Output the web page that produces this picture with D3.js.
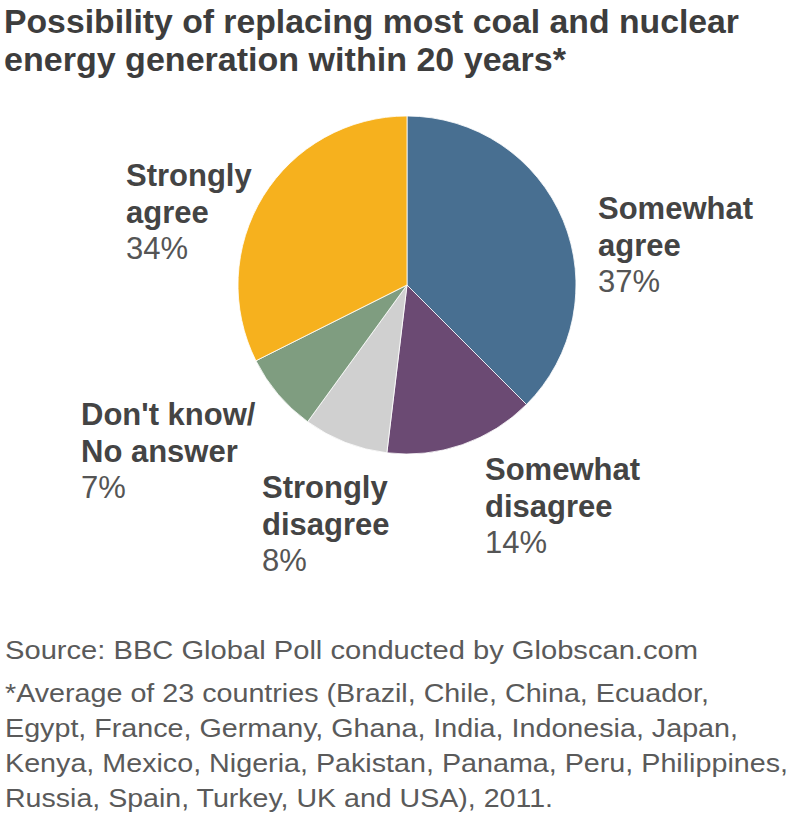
<!DOCTYPE html>
<html>
<head>
<meta charset="utf-8">
<script src="https://cdn.jsdelivr.net/npm/d3@7"></script>
<style>
  html, body { margin: 0; padding: 0; background: #fff; }
  svg { display: block; }
  text { font-family: "Liberation Sans", Arial, Helvetica, sans-serif; }
</style>
</head>
<body>
<svg id="chart" width="800" height="818"></svg>
<script>
// ---- data ----
const categories = ["Somewhat agree", "Somewhat disagree", "Strongly disagree", "Don't know/No answer", "Strongly agree"];
// printed percentages
const values = [37, 14, 8, 7, 34];
// slice sizes as drawn in the picture
const sliceShares = [37.5, 14.4, 8.1, 7.6, 32.4];
const labelLines = [["Somewhat", "agree"], ["Somewhat", "disagree"], ["Strongly", "disagree"], ["Don't know/", "No answer"], ["Strongly", "agree"]];
const colors = ["#486f91", "#6b4a73", "#d0d0d0", "#7f9d80", "#f6b11e"];
const titleLines = ["Possibility of replacing most coal and nuclear", "energy generation within 20 years*"];
const sourceLine = "Source: BBC Global Poll conducted by Globscan.com";
const noteLines = [
  "*Average of 23 countries (Brazil, Chile, China, Ecuador,",
  "Egypt, France, Germany, Ghana, India, Indonesia, Japan,",
  "Kenya, Mexico, Nigeria, Pakistan, Panama, Peru, Philippines,",
  "Russia, Spain, Turkey, UK and USA), 2011."
];

// ---- layout (not data) ----
const svg = d3.select("#chart");
const cx = 407, cy = 285, R = 169;
const titleLen = [735, 562];
const noteLen = [704, 733, 783, 548];
const labelAnchor = [[598, 219], [485, 480], [262, 498], [81, 425], [126, 186]];
const lineH = 36.5;

// title
svg.append("g").selectAll("text").data(titleLines).join("text")
  .attr("x", 4).attr("y", (d, i) => 33 + i * 38)
  .attr("font-size", 34).attr("font-weight", "bold").attr("fill", "#3d3d3d")
  .attr("textLength", (d, i) => titleLen[i]).attr("lengthAdjust", "spacingAndGlyphs")
  .text(d => d);

// pie
const pie = d3.pie().sort(null).value(d => d)(sliceShares);
const arc = d3.arc().innerRadius(0).outerRadius(R);
svg.append("g").attr("transform", `translate(${cx},${cy})`)
  .selectAll("path").data(pie).join("path")
  .attr("d", arc)
  .attr("fill", (d, i) => colors[i])
  .attr("stroke", "#ffffff").attr("stroke-width", 0.8);

// labels
const lg = svg.append("g");
categories.forEach((c, i) => {
  const [x, y] = labelAnchor[i];
  const t = lg.append("text").attr("x", x).attr("y", y).attr("font-size", 31);
  labelLines[i].forEach((ln, j) => {
    t.append("tspan").attr("x", x).attr("dy", j === 0 ? 0 : lineH)
      .attr("font-weight", "bold").attr("fill", "#444").text(ln);
  });
  t.append("tspan").attr("x", x).attr("dy", lineH)
    .attr("fill", "#555").text(values[i] + "%");
});

// source & notes
svg.append("text").attr("x", 5).attr("y", 659)
  .attr("font-size", 25).attr("fill", "#5a5a5a")
  .attr("textLength", 693).attr("lengthAdjust", "spacingAndGlyphs")
  .text(sourceLine);
svg.append("g").selectAll("text").data(noteLines).join("text")
  .attr("x", 5).attr("y", (d, i) => 702 + i * 35)
  .attr("font-size", 25).attr("fill", "#5a5a5a")
  .attr("textLength", (d, i) => noteLen[i]).attr("lengthAdjust", "spacingAndGlyphs")
  .text(d => d);
</script>
</body>
</html>
